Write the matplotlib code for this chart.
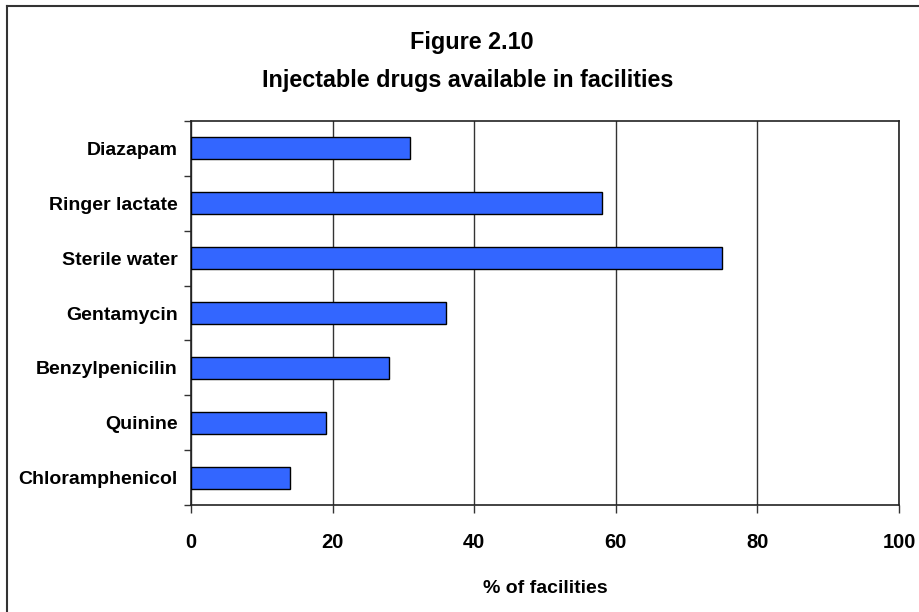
import matplotlib
matplotlib.use("Agg")
import matplotlib.pyplot as plt
from matplotlib.lines import Line2D
from matplotlib.ticker import FixedLocator, NullFormatter

# Data
drugs = ["Diazapam", "Ringer lactate", "Sterile water", "Gentamycin",
         "Benzylpenicilin", "Quinine", "Chloramphenicol"]
pct_facilities = [31, 58, 75, 36, 28, 19, 14]
x_ticks = [0, 20, 40, 60, 80, 100]
title_lines = ["Figure 2.10", "Injectable drugs available in facilities"]
x_label = "% of facilities"

plt.rcParams["font.family"] = ["Liberation Sans", "DejaVu Sans"]
plt.rcParams["font.weight"] = "bold"
lab_size, tick_size, title_size = 14, 14.5, 16.8

W, H = 920, 612
fig = plt.figure(figsize=(W / 100, H / 100), dpi=100)
fig.patch.set_facecolor("white")

ax = fig.add_axes([191 / W, 107 / H, (899 - 191) / W, (505 - 121) / H])

n = len(drugs)
ypos = [n - 1 - i for i in range(n)]
ax.barh(ypos, pct_facilities, height=0.40, color="#3366FF",
        edgecolor="black", linewidth=1.0, zorder=3)

ax.set_xlim(0, 100)
ax.set_ylim(-0.5, n - 0.5)

# vertical gridlines
ax.set_xticks(x_ticks)
ax.set_xticklabels([str(t) for t in x_ticks], fontsize=tick_size, fontweight="bold")
ax.grid(axis="x", color="#333333", linewidth=1.0, zorder=1)
ax.tick_params(axis="x", direction="out", length=6, width=1.0, color="#333333",
               pad=14)

# category labels, with tick marks between categories
ax.set_yticks(ypos)
ax.set_yticklabels(drugs, fontsize=lab_size, fontweight="bold")
ax.tick_params(axis="y", which="major", length=0, pad=9.5)
ax.yaxis.set_minor_locator(FixedLocator([i - 0.5 for i in range(n + 1)]))
ax.yaxis.set_minor_formatter(NullFormatter())
ax.tick_params(axis="y", which="minor", direction="out", length=5, width=1.0,
               color="#333333")

for side in ["left", "bottom", "top", "right"]:
    ax.spines[side].set_color("#222222")
    ax.spines[side].set_linewidth(1.2)

# titles and axis label
fig.text(472 / W, 1 - 49 / H, title_lines[0], ha="center", va="baseline",
         fontsize=title_size, fontweight="bold")
fig.text(468 / W, 1 - 87 / H, title_lines[1], ha="center", va="baseline",
         fontsize=title_size, fontweight="bold")
fig.text(545 / W, 1 - 593 / H, x_label, ha="center", va="baseline",
         fontsize=lab_size, fontweight="bold")

# chart frame (runs off the right and bottom edges)
fig.add_artist(Line2D([7.5 / W, 1.0], [1 - 5.5 / H, 1 - 5.5 / H],
                      transform=fig.transFigure, color="#333333", linewidth=1.5))
fig.add_artist(Line2D([7.5 / W, 7.5 / W], [0.0, 1 - 5.5 / H],
                      transform=fig.transFigure, color="#333333", linewidth=1.5))

fig.savefig("out.png", dpi=100)
